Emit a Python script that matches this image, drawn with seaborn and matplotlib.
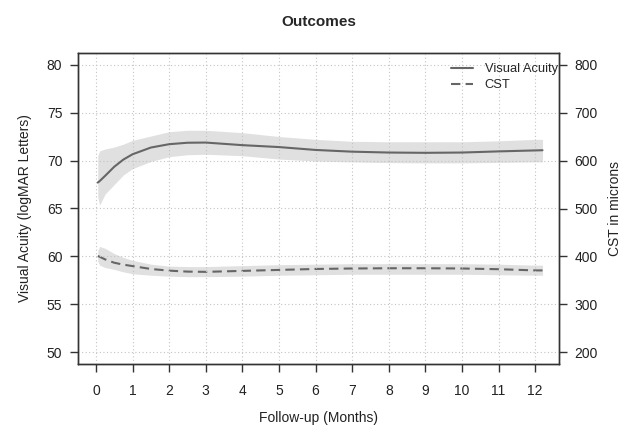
import matplotlib
matplotlib.use("Agg")
import matplotlib.pyplot as plt
from matplotlib.lines import Line2D
import seaborn as sns
import pandas as pd

# ---- data ----
months = [0.05, 0.1, 0.25, 0.5, 0.75, 1.0, 1.5, 2.0, 2.5, 3.0, 4.0, 5.0,
          6.0, 7.0, 8.0, 9.0, 10.0, 11.0, 12.0, 12.2]
va_mean = [67.7, 67.85, 68.4, 69.35, 70.1, 70.65, 71.35, 71.7, 71.85, 71.87, 71.6, 71.4,
           71.1, 70.92, 70.83, 70.8, 70.83, 70.95, 71.05, 71.07]
va_upper = [70.5, 71.0, 71.2, 71.4, 71.7, 72.1, 72.55, 73.0, 73.15, 73.15, 72.9, 72.5,
            72.2, 72.0, 71.95, 71.95, 71.95, 72.05, 72.2, 72.2]
va_lower = [66.2, 65.35, 66.5, 67.5, 68.5, 69.15, 69.9, 70.4, 70.6, 70.65, 70.5, 70.15,
            69.95, 69.85, 69.78, 69.75, 69.75, 69.8, 69.86, 69.86]

cst_mean = [401, 399.5, 394, 387, 383, 380, 374, 370.5, 368.5, 368, 370, 372,
            374, 375, 375.5, 375.5, 375, 373.5, 371, 371]
cst_upper = [412, 421, 417, 406, 398, 392, 384, 380, 379, 379, 381, 383,
             384, 385, 385, 385, 385, 384, 382, 382]
cst_lower = [390, 382, 377, 373, 368, 364, 361, 359, 358, 358, 359, 361,
             362, 363, 363, 363, 363, 362, 361, 361]

x_ticks = list(range(0, 13))
va_ticks = [50, 55, 60, 65, 70, 75, 80]
cst_ticks = [200, 300, 400, 500, 600, 700, 800]

df = pd.DataFrame({"month": months, "va": va_mean, "va_lo": va_lower, "va_hi": va_upper,
                   "cst": cst_mean, "cst_lo": cst_lower, "cst_hi": cst_upper})

sns.set_style("white")
plt.rcParams["font.family"] = ["Liberation Sans", "DejaVu Sans"]
plt.rcParams["font.size"] = 10

line_col = "#666666"
band_col = "#e0e0e0"
axis_col = "#333333"
text_col = "#222222"
dash = (4.5, 2.5)

fig = plt.figure(figsize=(6.33, 4.28), dpi=100)
ax = fig.add_axes([78 / 633, 1 - 364 / 428, (559 - 78) / 633, (364 - 53) / 428])
ax2 = ax.twinx()
ax.set_zorder(ax2.get_zorder() + 1)
ax.patch.set_visible(False)

# CST on secondary axis
ax2.fill_between(df["month"], df["cst_lo"], df["cst_hi"], color=band_col, lw=0, zorder=1)
sns.lineplot(data=df, x="month", y="cst", ax=ax2, color=line_col, lw=1.5,
             legend=False, zorder=2)
ax2.lines[-1].set_dashes(dash)

# VA on primary axis
ax.fill_between(df["month"], df["va_lo"], df["va_hi"], color=band_col, lw=0, zorder=1)
sns.lineplot(data=df, x="month", y="va", ax=ax, color=line_col, lw=1.5, legend=False, zorder=2)

ax.set_xlim(-0.49, 12.65)
ax.set_ylim(48.8, 81.2)
ax2.set_ylim(176, 824)
ax.set_xticks(x_ticks)
ax.set_yticks(va_ticks)
ax2.set_yticks(cst_ticks)

ax.set_axisbelow("line")
ax.grid(True, color="#c4c4c4", lw=0.8, linestyle=(0, (1, 2.2)))
ax2.grid(False)

for a in (ax, ax2):
    for s in a.spines.values():
        s.set_color(axis_col)
        s.set_linewidth(1.0)
    a.tick_params(axis="both", direction="out", length=5.5, width=1.0, color=axis_col,
                  labelsize=10, labelcolor=text_col, pad=5.8, left=(a is ax),
                  right=(a is ax2), bottom=(a is ax))
ax.tick_params(axis="x", pad=9.0)

ax.set_xlabel("Follow-up (Months)", fontsize=10, color=text_col, labelpad=9.5)
ax.set_ylabel("Visual Acuity (logMAR Letters)", fontsize=10, color=text_col, labelpad=10.5)
ax2.set_ylabel("CST in microns", fontsize=10, color=text_col, labelpad=7)
ax.set_title("Outcomes", fontsize=11, fontweight="bold", pad=19.5)

handles = [Line2D([], [], color=line_col, lw=1.5),
           Line2D([], [], color=line_col, lw=1.5, dashes=dash)]
ax.legend(handles, ["Visual Acuity", "CST"], loc="upper right", frameon=False,
          fontsize=9.3, handlelength=1.7, borderaxespad=0, borderpad=0.4,
          bbox_to_anchor=(1 + 4 / 481, 1 - 5 / 311), labelspacing=0.3,
          handletextpad=0.9)

fig.savefig("out.png", dpi=100)
